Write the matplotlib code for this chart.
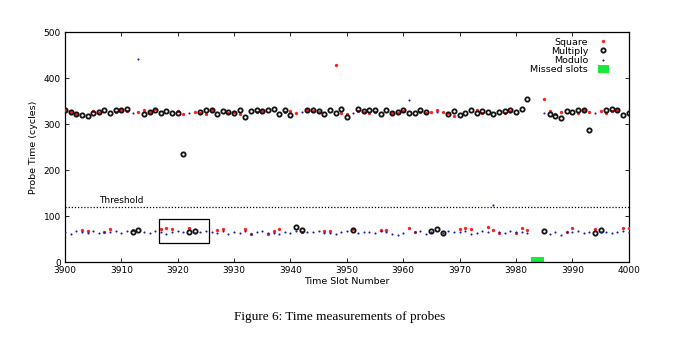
"""Scatter of probe timings per time slot (Flush+Reload style trace)."""
import numpy as np
import matplotlib
matplotlib.use("Agg")
import matplotlib.pyplot as plt
from matplotlib.patches import Rectangle

nan = np.nan

# time slots 3900..4000
slots = np.arange(3900, 4001)

square = [
    330, 326, 322, 70, 68, 328, 325, 66, 72, 327,
    330, 328, 70, 326, 330, 327, 333, 72, 73, 71,
    328, 322, 74, 327, 325, 322, 331, 69, 72, 324,
    327, 321, 71, 62, 326, 329, 62, 67, 72, 326,
    329, 323, 65, 330, 328, 326, 68, 67, 428, 325,
    321, 72, 329, 326, 324, 327, 70, 69, 324, 323,
    329, 74, 66, 326, 325, 327, 330, 326, 324, 317,
    72, 73, 72, 330, 325, 76, 70, 64, 325, 328,
    64, 74, 70, nan, nan, 355, 328, 322, 327, 66,
    73, 325, 330, 327, 72, 329, 324, 329, 330, 73,
    73,
]

multiply = [
    331, 327, 322, 320, 318, 323, 327, 331, 325, 330,
    331, 332, 65, 70, 321, 326, 330, 324, 328, 325,
    323, 234, 66, 68, 327, 331, 330, 322, 329, 326,
    325, 330, 316, 328, 331, 328, 331, 333, 322, 330,
    320, 76, 70, 331, 330, 328, 322, 330, 324, 332,
    316, 70, 332, 329, 331, 330, 322, 331, 325, 326,
    331, 323, 325, 330, 327, 68, 71, 64, 322, 328,
    320, 324, 330, 323, 329, 326, 322, 327, 328, 330,
    326, 333, 355, nan, nan, 67, 322, 318, 314, 329,
    326, 330, 331, 287, 64, 70, 330, 332, 331, 319,
    325,
]

modulo = [
    66, 62, 67, 65, 64, 68, 63, 66, 65, 67,
    63, 68, 323, 442, 66, 64, 67, 65, 62, 66,
    67, 65, 325, 64, 66, 67, 65, 63, 67, 62,
    66, 64, 67, 62, 66, 68, 63, 64, 61, 66,
    64, 67, 326, 65, 66, 68, 63, 64, 62, 66,
    67, 324, 63, 66, 65, 64, 67, 65, 62, 58,
    63, 352, 65, 68, 62, 66, 327, 64, 67, 66,
    65, 68, 60, 63, 68, 65, 124, 66, 63, 67,
    65, 66, 64, nan, nan, 323, 61, 66, 58, 65,
    66, 68, 63, 66, 323, 65, 66, 64, 65, 67,
    66,
]

# slots with no measurement
missed_start, missed_end, missed_height = 3982.6, 3984.9, 12
threshold = 120
# highlighted region
box_x, box_y, box_w, box_h = 3916.7, 41, 8.8, 52

fig = plt.figure(figsize=(6.8, 3.43), dpi=100)
ax = fig.add_axes([0.0956, 0.236, 0.829, 0.6706])

ax.plot(slots, square, ls="none", marker="o", ms=2.4, color="#ff2020",
        mec="none", label="Square", zorder=3)
ax.plot(slots, multiply, ls="none", marker="o", ms=3.1, mfc="none",
        mec="#111111", mew=1.3, label="Multiply", zorder=4)
ax.plot(slots, modulo, ls="none", marker="o", ms=1.5, color="#1a1aa8",
        mec="none", label="Modulo", zorder=5)
ax.bar([missed_start], [missed_height], width=missed_end - missed_start,
       align="edge", color="#19e83c", label="Missed slots", zorder=2)

ax.axhline(threshold, color="black", ls=(0, (1, 1.5)), lw=0.9)
ax.text(3910, threshold + 3, "Threshold", fontsize=6.5, ha="center", va="bottom")
ax.add_patch(Rectangle((box_x, box_y), box_w, box_h, fill=False,
                       ec="black", lw=0.9, zorder=6))

ax.set_xlim(3900, 4000)
ax.set_ylim(0, 500)
ax.set_xticks(np.arange(3900, 4001, 10))
ax.set_yticks(np.arange(0, 501, 100))
ax.tick_params(direction="in", top=True, right=True, labelsize=6.5,
               length=3, width=0.6, pad=3)
for s in ax.spines.values():
    s.set_linewidth(0.9)

ax.set_xlabel("Time Slot Number", fontsize=6.8, labelpad=1)
ax.set_ylabel("Probe Time (cycles)", fontsize=6.8, labelpad=4)

leg = ax.legend(loc="upper right", bbox_to_anchor=(0.975, 1.0), frameon=False,
                markerfirst=False, fontsize=6.8, handlelength=1.2,
                handletextpad=1.0, labelspacing=0.0, borderaxespad=0.2,
                handleheight=0.9)
for t in leg.get_texts():
    t.set_ha("right")

fig.text(0.5, 0.068, "Figure 6: Time measurements of probes",
         family="Liberation Serif", fontsize=9.5, ha="center")

fig.savefig("out.png", dpi=100, facecolor="white")
